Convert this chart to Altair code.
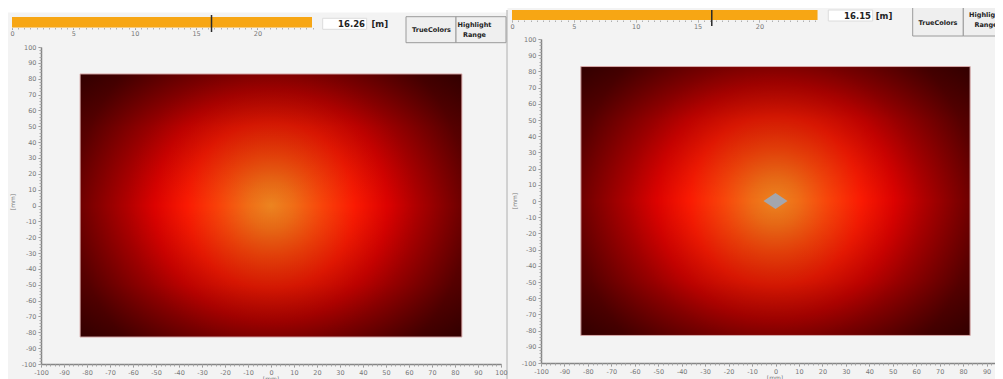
import altair as alt
import pandas as pd

# ---------------- values ----------------
slider_values = [16.26, 16.15]            # read-out of each panel [m]
slider_ends = [24.45, 24.7]               # length of the orange bar [m]
slider_label_ticks = [0, 5, 10, 15, 20]
slider_minor_ticks = [0.5 * i for i in range(0, 50)]
axis_ticks = list(range(-100, 101, 10))
axis_minor_ticks = list(range(-100, 101, 2))
field_x = [-83, 83]                       # extent of the heat field [mm]
field_y = [-83, 83]
spot_x = [0]                              # grey spot in the right panel [mm]
spot_y = [0]
slider_unit = "[m]"
axis_unit = "[mm]"
button_texts = ["TrueColors", "Highlight", "Range"]

# ---------------- styles ----------------
W, H = 987, 371
FONT = "DejaVu Sans"
PANEL_BG = "#f3f3f3"
ORANGE = "#f7a614"
radial_stops = [(0.0, "#ec8420"), (0.10, "#f06c16"), (0.22, "#f8440a"),
                (0.36, "#fa1a02"), (0.50, "#dc0200"), (0.62, "#b00000"),
                (0.74, "#880000"), (0.85, "#640000"), (1.0, "#4c0000")]
shade_stops = [(0.0, "rgba(0,0,0,0.35)"), (0.2, "rgba(0,0,0,0.15)"),
               (0.5, "rgba(0,0,0,0)"), (0.8, "rgba(0,0,0,0.15)"),
               (1.0, "rgba(0,0,0,0.35)")]
HYPHEN = "datum.value < 0 ? '-' + abs(datum.value) : '' + datum.value"

radial = alt.RadialGradient(
    gradient="radial",
    stops=[alt.GradientStop(offset=o, color=c) for o, c in radial_stops],
    x1=0.5, y1=0.5, r1=0, x2=0.5, y2=0.5, r2=0.61)
shade = alt.LinearGradient(
    gradient="linear",
    stops=[alt.GradientStop(offset=o, color=c) for o, c in shade_stops],
    x1=0, y1=0, x2=0, y2=1)


def main_axis(orient, offset):
    return alt.Axis(orient=orient, offset=offset, values=axis_ticks, title=None,
                    grid=False, zindex=1, labelFont=FONT, labelFontSize=6.5,
                    labelExpr=HYPHEN,
                    labelColor="#777777", labelPadding=2, labelFlush=False,
                    labelOverlap=False, tickSize=3, tickColor="#8a8a8a",
                    domainColor="#858585", domainWidth=1.5)


def minor_axis(orient, offset):
    return alt.Axis(orient=orient, offset=offset, values=axis_minor_ticks,
                    title=None, grid=False, zindex=1, labels=False, domain=False,
                    tickSize=2, tickColor="#a8a8a8")


def heat_panel(x_range, y_range, with_spot):
    xs = alt.Scale(domain=[-100, 100], range=x_range, nice=False, zero=False)
    ys = alt.Scale(domain=[-100, 100], range=y_range, nice=False, zero=False)
    x_off = y_range[0] - H
    y_off = -x_range[0]
    df = pd.DataFrame({"x0": [field_x[0]], "x1": [field_x[1]],
                       "y0": [field_y[0]], "y1": [field_y[1]]})
    base = alt.Chart(df)

    def enc(xa, ya):
        return dict(x=alt.X("x0:Q", scale=xs, axis=xa), x2="x1",
                    y=alt.Y("y0:Q", scale=ys, axis=ya), y2="y1")

    field = base.mark_rect(fill=radial).encode(
        **enc(main_axis("bottom", x_off), main_axis("left", y_off)))
    dark = base.mark_rect(fill=shade, stroke="#d8aaaa", strokeWidth=1).encode(
        **enc(minor_axis("bottom", x_off), minor_axis("left", y_off)))
    layers = [field, dark]
    if with_spot:
        sdf = pd.DataFrame({"sx": spot_x, "sy": spot_y})
        layers.append(alt.Chart(sdf).mark_point(
            shape="M-1,0L0,-0.67L1,0L0,0.67Z", size=576, filled=True,
            fill="#a4a6ad", opacity=1, strokeWidth=0).encode(
            x=alt.X("sx:Q", scale=xs, axis=None),
            y=alt.Y("sy:Q", scale=ys, axis=None)))
    return alt.layer(*layers).resolve_axis(x="independent", y="independent")


def slider(i, x_range, bar_y, mark_y):
    xs = alt.Scale(domain=[0, 25], range=x_range, nice=False, zero=False)
    off = bar_y[1] - H
    df = pd.DataFrame({"s": [0], "e": [slider_ends[i]], "v": [slider_values[i]]})
    major = alt.Axis(orient="bottom", offset=off, values=slider_label_ticks,
                     title=None, grid=False, zindex=1, domain=False, labelFont=FONT,
                     labelFontSize=6.5, labelColor="#777777", labelPadding=1,
                     labelFlush=False, tickSize=2, tickColor="#9a9a9a")
    minor = alt.Axis(orient="bottom", offset=off, values=slider_minor_ticks,
                     title=None, grid=False, zindex=1, domain=False, labels=False,
                     tickSize=1.5, tickColor="#b0b0b0")
    bar = alt.Chart(df).mark_rect(color=ORANGE).encode(
        x=alt.X("s:Q", scale=xs, axis=major), x2="e",
        y=alt.value(bar_y[0]), y2=alt.value(bar_y[1]))
    ghost = alt.Chart(df).mark_rect(opacity=0).encode(
        x=alt.X("s:Q", scale=xs, axis=minor), x2="e",
        y=alt.value(bar_y[0]), y2=alt.value(bar_y[1]))
    marker = alt.Chart(df).mark_rule(color="#2a2a2a", strokeWidth=1.5).encode(
        x=alt.X("v:Q", scale=xs, axis=None),
        y=alt.value(mark_y[0]), y2=alt.value(mark_y[1]))
    return alt.layer(bar, ghost, marker).resolve_axis(x="independent")


def box(x0, x1, y0, y1, fill, stroke):
    return alt.Chart(pd.DataFrame({"k": [0]})).mark_rect(
        fill=fill, stroke=stroke, strokeWidth=1).encode(
        x=alt.value(x0), x2=alt.value(x1), y=alt.value(y0), y2=alt.value(y1))


def text(t, x, y, size=6.5, weight="bold", align="center", angle=0,
         color="#222222"):
    return alt.Chart(pd.DataFrame({"t": [t]})).mark_text(
        font=FONT, fontSize=size, fontWeight=weight, align=align,
        baseline="middle", angle=angle, color=color).encode(
        text="t:N", x=alt.value(x), y=alt.value(y))


def value_text(i, x, y):
    df = pd.DataFrame({"v": [slider_values[i]]})
    return alt.Chart(df).mark_text(
        font=FONT, fontSize=8.5, fontWeight="bold", align="right",
        baseline="middle", color="#222222").encode(
        text=alt.Text("v:Q", format=".2f"), x=alt.value(x), y=alt.value(y))


layers = [
    box(0, 498, 5, H, PANEL_BG, PANEL_BG),
    box(500, W, 0, H, PANEL_BG, PANEL_BG),
    alt.Chart(pd.DataFrame({"k": [0]})).mark_rule(color="#a8a8a8", strokeWidth=1).encode(
        x=alt.value(499), y=alt.value(2), y2=alt.value(H)),
    # left panel UI
    slider(0, [4, 310.75], [9, 19.5], [7, 24]),
    box(314.7, 358.7, 10.3, 21.3, "white", "#dcdcdc"),
    value_text(0, 357, 15.5),
    text(slider_unit, 371.7, 15.5, size=8.5),
    box(398, 448, 8.7, 34.7, "#efefef", "#9a9a9a"),
    box(448, 498, 8.7, 34.7, "#efefef", "#9a9a9a"),
    text(button_texts[0], 423.5, 21.5),
    text(button_texts[1], 466.5, 17),
    text(button_texts[2], 466.5, 27),
    # right panel UI
    slider(1, [504, 813.25], [2, 12], [2, 18]),
    box(820.3, 864.7, 2, 13, "white", "#dcdcdc"),
    value_text(1, 863, 7.7),
    text(slider_unit, 876, 7.7, size=8.5),
    box(904.7, 955.3, -5, 28, "#efefef", "#9a9a9a"),
    box(955.3, 1000, -5, 28, "#efefef", "#9a9a9a"),
    text(button_texts[0], 930, 14.7),
    text(button_texts[1], 978, 7),
    text(button_texts[2], 978, 17),
    # heat panels
    heat_panel([33, 493], [356, 39], False),
    heat_panel([533, 1002], [355, 31], True),
    text(axis_unit, 5, 194, size=6, weight="normal", angle=270, color="#777777"),
    text(axis_unit, 507, 193, size=6, weight="normal", angle=270, color="#777777"),
    text(axis_unit, 263, 370.5, size=6, weight="normal", color="#777777"),
    text(axis_unit, 767, 369.5, size=6, weight="normal", color="#777777"),
]

chart = alt.layer(*layers).resolve_scale(
    x="independent", y="independent"
).properties(
    width=W, height=H, padding=0, background="white",
    autosize=alt.AutoSizeParams(type="none"),
).configure_view(stroke="transparent").configure_axis(grid=False)

chart.save("out.html", embed_options={"renderer": "svg", "actions": False})
